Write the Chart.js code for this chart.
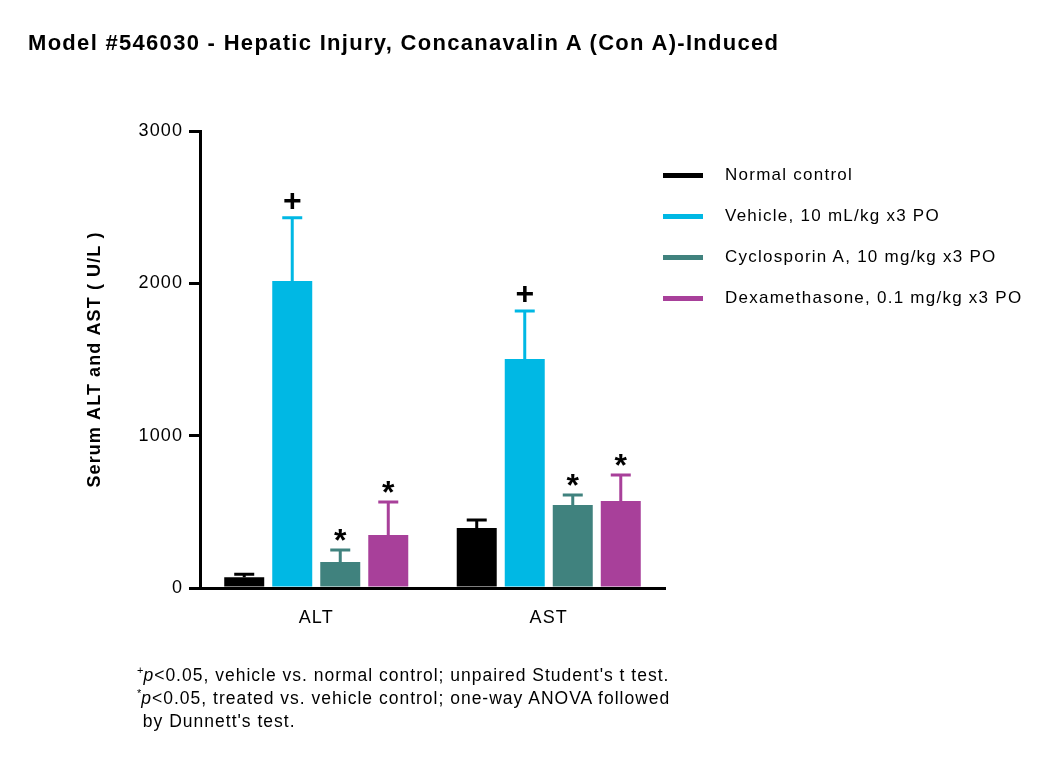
<!DOCTYPE html>
<html>
<head>
<meta charset="utf-8">
<script src="https://cdn.jsdelivr.net/npm/chart.js@4"></script>
<style>
body{margin:0;background:#fff;font-family:"Liberation Sans",Arial,sans-serif;color:#000}
#wrap{position:relative;width:1050px;height:763px}
#c{position:absolute;left:0;top:0}
#title{position:absolute;left:28px;top:30px;font-size:22px;letter-spacing:1.3px;font-weight:bold;white-space:nowrap}
#legend{position:absolute;left:663px;top:162px}
.row{height:41px;position:relative}
.sw{position:absolute;left:0;top:11px;width:40px;height:5px}
.lt{position:absolute;left:62px;top:3px;font-size:17px;letter-spacing:1.25px;white-space:nowrap}
#foot{position:absolute;left:137px;top:664px;font-size:17.5px;letter-spacing:1px;line-height:23px;white-space:nowrap}
#foot sup{font-size:11px;vertical-align:7px;line-height:0;letter-spacing:0}
</style>
</head>
<body>
<div id="wrap">
<canvas id="c" width="1050" height="763"></canvas>
<div id="title">Model #546030 - Hepatic Injury, Concanavalin A (Con A)-Induced</div>
<div id="legend"></div>
<div id="foot">
<div><sup>+</sup><i>p</i>&lt;0.05, vehicle vs. normal control; unpaired Student's t test.</div>
<div><sup>*</sup><i>p</i>&lt;0.05, treated vs. vehicle control; one-way ANOVA followed</div>
<div>&nbsp;by Dunnett's test.</div>
</div>
</div>
<script>
const categories = ["ALT", "AST"]
const groupNames = ["Normal control", "Vehicle, 10 mL/kg x3 PO", "Cyclosporin A, 10 mg/kg x3 PO", "Dexamethasone, 0.1 mg/kg x3 PO"]
const groupColors = ["#000000", "#00b8e4", "#40827e", "#a8409a"]

const normalMean = [70, 394]
const normalSem = [20, 53]
const vehicleMean = [2016, 1503]
const vehicleSem = [414, 316]
const csaMean = [170, 545]
const csaSem = [80, 66]
const dexMean = [348, 571]
const dexSem = [217, 171]

const normalMarks = ["", ""]
const vehicleMarks = ["+", "+"]
const csaMarks = ["*", "*"]
const dexMarks = ["*", "*"]

const yTicks = [0, 1000, 2000, 3000]

const means = [normalMean, vehicleMean, csaMean, dexMean]
const sems = [normalSem, vehicleSem, csaSem, dexSem]
const marks = [normalMarks, vehicleMarks, csaMarks, dexMarks]

const fontFamily = "'Liberation Sans', Arial, sans-serif"

// legend
const legend = document.getElementById("legend")
groupNames.forEach((name, i) => {
  const row = document.createElement("div")
  row.className = "row"
  row.innerHTML = '<div class="sw" style="background:' + groupColors[i] + '"></div><div class="lt">' + name + '</div>'
  legend.appendChild(row)
})

// wider text like the original figure
const spacing = {
  id: "spacing",
  beforeDraw(chart) { chart.ctx.letterSpacing = "1.1px" }
}

// error bars + significance marks
const errorBars = {
  id: "errorBars",
  afterDatasetsDraw(chart) {
    const ctx = chart.ctx
    const y = chart.scales.y
    chart.data.datasets.forEach((ds, di) => {
      const meta = chart.getDatasetMeta(di)
      meta.data.forEach((bar, i) => {
        const top = y.getPixelForValue(ds.data[i])
        const cap = y.getPixelForValue(ds.data[i] + sems[di][i])
        ctx.save()
        ctx.strokeStyle = groupColors[di]
        ctx.lineWidth = 3
        ctx.beginPath()
        ctx.moveTo(bar.x, top)
        ctx.lineTo(bar.x, cap)
        ctx.moveTo(bar.x - 10, cap)
        ctx.lineTo(bar.x + 10, cap)
        ctx.stroke()
        const m = marks[di][i]
        if (m) {
          ctx.letterSpacing = "0px"
          ctx.fillStyle = "#000"
          ctx.font = "bold 32px " + fontFamily
          ctx.textAlign = "center"
          ctx.textBaseline = "alphabetic"
          const tm = ctx.measureText(m)
          ctx.fillText(m, bar.x, cap - 9 - tm.actualBoundingBoxDescent)
        }
        ctx.restore()
      })
    })
  }
}

const ctx = document.getElementById("c")

new Chart(ctx, {
  type: "bar",
  data: {
    labels: categories,
    datasets: groupNames.map((name, i) => ({
      label: name,
      data: means[i],
      backgroundColor: groupColors[i],
      borderWidth: 0,
      categoryPercentage: 0.826,
      barPercentage: 0.833
    }))
  },
  options: {
    responsive: false,
    animation: false,
    layout: {
      padding: {left: 80, top: 131, right: 385, bottom: 0}
    },
    plugins: {
      legend: {display: false},
      tooltip: {enabled: false}
    },
    scales: {
      x: {
        grid: {display: false},
        border: {display: true, color: "#000", width: 3},
        ticks: {
          color: "#000",
          padding: 11,
          font: {family: fontFamily, size: 18}
        },
        afterFit: s => { s.height = 175 }
      },
      y: {
        min: 0,
        max: 3000,
        afterBuildTicks: s => { s.ticks = yTicks.map(v => ({value: v})) },
        grid: {
          drawOnChartArea: false,
          color: "#000",
          lineWidth: 3,
          tickLength: 11
        },
        border: {display: true, color: "#000", width: 3},
        ticks: {
          color: "#000",
          padding: 6,
          font: {family: fontFamily, size: 18},
          callback: v => String(v)
        },
        title: {
          display: true,
          text: "Serum ALT and AST ( U/L )",
          color: "#000",
          padding: {top: 4, bottom: 0},
          font: {family: fontFamily, size: 18, weight: "bold"}
        },
        afterFit: s => { s.width = 120 }
      }
    }
  },
  plugins: [spacing, errorBars]
})
</script>
</body>
</html>
